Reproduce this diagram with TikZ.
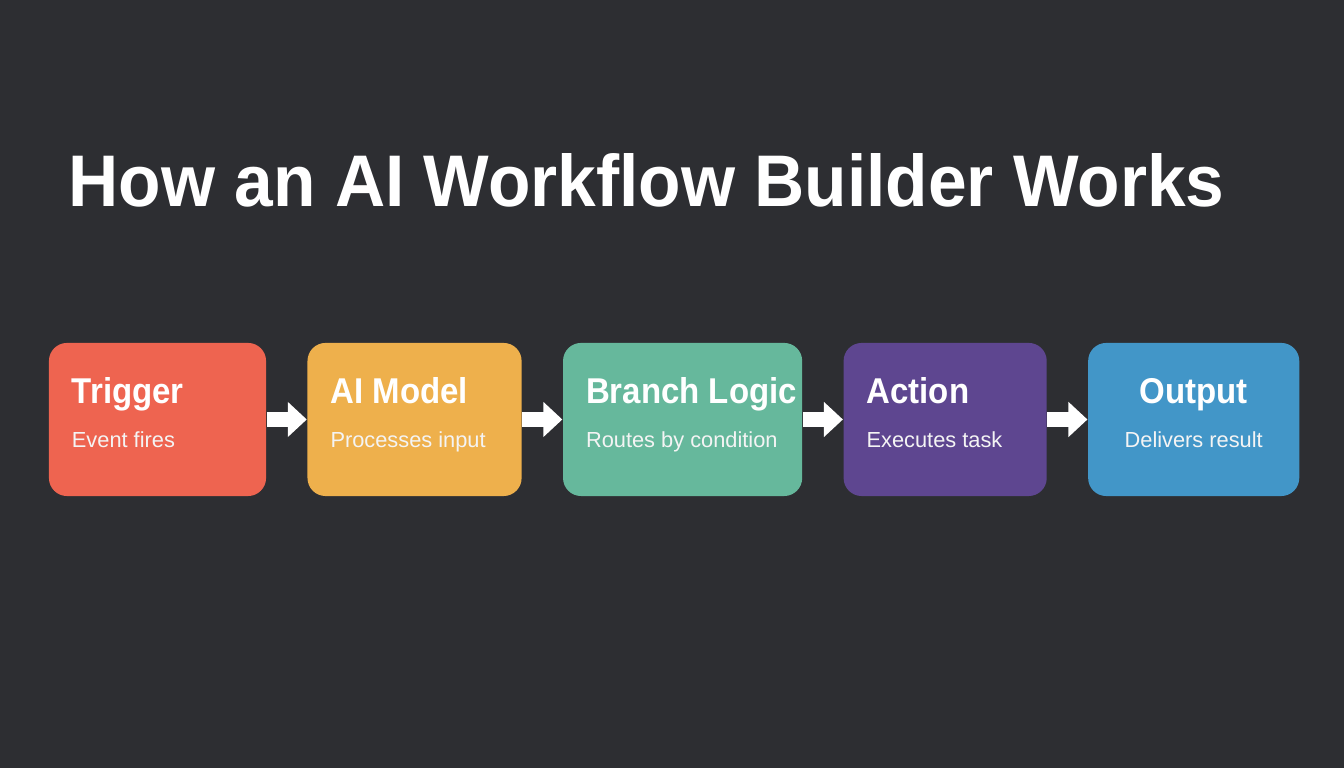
\documentclass[tikz,border=0pt]{standalone}
\usepackage{fontspec}
\setmainfont{Liberation Sans}
\setsansfont{Liberation Sans}
\newfontfamily\headfont[FakeStretch=0.95]{Liberation Sans}
\newfontfamily\stagefont[FakeStretch=0.92]{Liberation Sans}
\usetikzlibrary{
	arrows.meta,                % For Triangle arrows
	positioning                 % For "right=of node" syntax
}
\definecolor{bgdark}{HTML}{2D2E32}
\definecolor{trigred}{HTML}{EE6450}
\definecolor{modelamber}{HTML}{EEB04C}
\definecolor{branchteal}{HTML}{66B89C}
\definecolor{actionpurple}{HTML}{5E4690}
\definecolor{outputblue}{HTML}{4296C8}
\definecolor{subwhite}{HTML}{F4F4F4}
\newcommand{\stagetitle}[1]{\mbox{\stagefont\fontsize{10.2}{12}\selectfont\bfseries #1}}
\newcommand{\stagesub}[1]{\mbox{\fontsize{6.2}{8}\selectfont\color{subwhite}#1}}
\tikzset{
	stage/.style={
		rectangle,
		rounded corners=0.18cm,
		text=white,
		align=flush left,
		minimum height=1.53cm,
		inner xsep=0.23cm,
		text height=7.5pt,
		text depth=16.5pt,
		font=\sffamily
	},
	flow/.style={
		-{Triangle[length=0.19cm,width=0.34cm]},
		line width=0.15cm,
		white
	}
}

\begin{document}
\begin{tikzpicture}[x=0.01cm, y=-0.01cm, node distance=0.40cm]
	% Background and page frame
	\fill[bgdark] (0,0) rectangle (1344,768);
	\useasboundingbox (0,0) rectangle (1344,768);

	% Heading
	\node[anchor=base west, inner sep=0, text=white, font=\headfont\bfseries\fontsize{20.8}{24}\selectfont] (heading) at (68,207) {How an AI Workflow Builder Works};

	% Row of stages
	\node[stage, fill=trigred, text width=1.71cm] (trigger) at (157.5,419.5) {\stagetitle{Trigger}\\[0.5pt]\stagesub{Event fires}};
	\node[stage, fill=modelamber, text width=1.68cm, right=of trigger] (model) {\stagetitle{AI Model}\\[0.5pt]\stagesub{Processes input}};
	\node[stage, fill=branchteal, text width=1.93cm, right=of model] (branch) {\stagetitle{Branch Logic}\\[0.5pt]\stagesub{Routes by condition}};
	\node[stage, fill=actionpurple, text width=1.57cm, right=of branch] (action) {\stagetitle{Action}\\[0.5pt]\stagesub{Executes task}};
	\node[stage, fill=outputblue, text width=1.65cm, align=flush center, right=of action] (output) {\stagetitle{Output}\\[0.5pt]\stagesub{Delivers result}};

	% Connections
	\draw[flow] (trigger) -- (model);
	\draw[flow] (model) -- (branch);
	\draw[flow] (branch) -- (action);
	\draw[flow] (action) -- (output);
\end{tikzpicture}
\end{document}
